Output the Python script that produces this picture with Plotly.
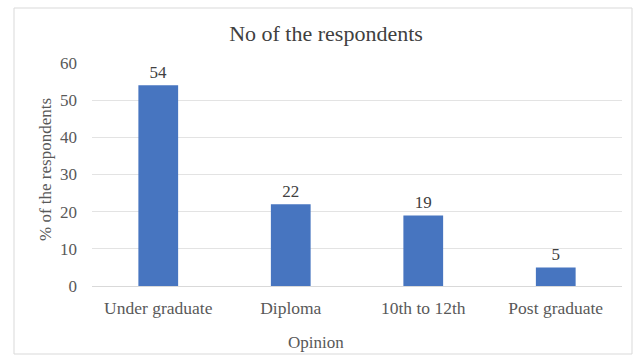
import plotly.graph_objects as go

categories = ["Under graduate", "Diploma", "10th to 12th", "Post graduate"]
values = [54, 22, 19, 5]
y_ticks = [0, 10, 20, 30, 40, 50, 60]

font_family = "Liberation Serif, Times New Roman, serif"
text_color = "#595959"

W, H = 636, 356
L, R, T, B = 92, 14, 63, 70
PW, PH = W - L - R, H - T - B


def px_x(x):
    return (x - L) / PW


def px_y(y):
    return (H - B - y) / PH


fig = go.Figure(
    go.Bar(
        x=categories,
        y=values,
        marker=dict(color="#4775c0", line=dict(width=0)),
        width=0.3,
        text=[str(v) for v in values],
        textposition="outside",
        textfont=dict(family=font_family, size=17, color="#404040"),
        cliponaxis=False,
    )
)

fig.update_layout(
    width=W,
    height=H,
    margin=dict(l=L, r=R, t=T, b=B),
    paper_bgcolor="white",
    plot_bgcolor="white",
    title=dict(
        text="No of the respondents",
        x=326 / W,
        xanchor="center",
        y=1 - 33 / H,
        yanchor="middle",
        font=dict(family=font_family, size=22, color="#404040"),
    ),
    font=dict(family=font_family, color=text_color),
    showlegend=False,
    xaxis=dict(
        tickfont=dict(size=17.5, color=text_color),
        showline=True,
        linecolor="#d9d9d9",
        ticks="",
        ticklabelstandoff=6,
    ),
    yaxis=dict(
        range=[0, 60],
        tickvals=y_ticks,
        tickfont=dict(size=17, color=text_color),
        showgrid=True,
        gridcolor="#e3e3e3",
        zeroline=False,
        ticks="",
        ticklabelstandoff=14,
    ),
    annotations=[
        dict(
            text="Opinion",
            xref="paper",
            yref="paper",
            x=px_x(316),
            y=px_y(342),
            xanchor="center",
            yanchor="middle",
            showarrow=False,
            font=dict(family=font_family, size=17, color=text_color),
        ),
        dict(
            text="% of the respondents",
            xref="paper",
            yref="paper",
            x=px_x(45),
            y=px_y(170),
            xanchor="center",
            yanchor="middle",
            textangle=-90,
            showarrow=False,
            font=dict(family=font_family, size=17, color=text_color),
        ),
    ],
    shapes=[
        dict(
            type="rect",
            xref="paper",
            yref="paper",
            x0=px_x(14),
            x1=px_x(632),
            y0=px_y(354),
            y1=px_y(8),
            line=dict(color="#d9d9d9", width=1),
            layer="below",
        )
    ],
)

fig.write_html("out.html")
